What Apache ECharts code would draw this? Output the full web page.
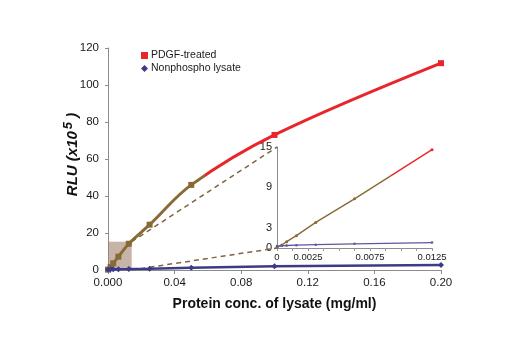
<!DOCTYPE html>
<html>
<head>
<meta charset="utf-8">
<script src="https://cdn.jsdelivr.net/npm/echarts@6/dist/echarts.min.js"></script>
<style>
  html, body { margin: 0; padding: 0; background: #fff; }
  #chart { width: 520px; height: 350px; }
</style>
</head>
<body>
<div id="chart"></div>
<script>
// main plot, protein conc. of lysate (mg/ml) vs RLU (x10^5)
var concMain = [0, 0.0015625, 0.003125, 0.00625, 0.0125, 0.025, 0.05, 0.1, 0.2];
var pdgfMain = [0.2, 1.6, 3.6, 7.2, 14.2, 24.5, 46, 73, 111.8];
var nonphosphoMain = [0.3, 0.35, 0.4, 0.45, 0.5, 0.7, 1.2, 2.0, 2.7];

// inset: low concentration range
var concInset = [0, 0.00039, 0.00078, 0.0015625, 0.003125, 0.00625, 0.0125];
var pdgfInset = [0.1, 0.45, 0.94, 1.83, 3.8, 7.3, 14.6];
var nonphosphoInset = [0.3, 0.33, 0.37, 0.42, 0.5, 0.62, 0.8];

// tick labels
var insetXLabels = [0, 0.0025, 0.0075, 0.0125];
var insetYLabels = [0, 3, 9, 15];

// shaded zoom box on main plot [x, y]
var zoomBox = [0.0142, 15.3];

var RED = '#e8252b';
var BROWN = '#8a6a34';
var NAVY = '#3d3b86';
var FONT = "'Liberation Sans', Arial, sans-serif";

function pairs(xs, ys) {
  return xs.map(function (x, i) { return [x, ys[i]]; });
}

function hasLabel(list, v) {
  return list.some(function (l) { return Math.abs(l - v) < 1e-9; });
}

var chart = echarts.init(document.getElementById('chart'), null, { renderer: 'canvas' });

var axisLine = { lineStyle: { color: '#8c8c8c', width: 1 } };
var labelStyle = { color: '#1a1a1a', fontFamily: FONT };

chart.setOption({
  animation: false,
  backgroundColor: '#fff',
  textStyle: { fontFamily: FONT },
  legend: {
    orient: 'vertical',
    left: 136,
    top: 45,
    itemWidth: 7,
    itemHeight: 7,
    itemGap: 2,
    textStyle: { fontSize: 10.5, color: '#1a1a1a', fontFamily: FONT, padding: [0, 0, 0, -2] },
    data: [
      { name: 'PDGF-treated', icon: 'rect', itemStyle: { color: RED } },
      { name: 'Nonphospho lysate', icon: 'diamond', itemStyle: { color: NAVY } }
    ]
  },
  grid: [
    { left: 108, right: 79, top: 48, bottom: 80 },
    { left: 277, top: 147, width: 155, height: 101 }
  ],
  xAxis: [
    {
      gridIndex: 0,
      type: 'value',
      min: 0,
      max: 0.2,
      interval: 0.04,
      splitLine: { show: false },
      axisLine: axisLine,
      axisTick: { length: 4, lineStyle: { color: '#8c8c8c' } },
      axisLabel: Object.assign({
        fontSize: 11.5,
        margin: 7,
        formatter: function (v) { return v === 0 ? '0.000' : v.toFixed(2); }
      }, labelStyle),
      name: 'Protein conc. of lysate (mg/ml)',
      nameLocation: 'middle',
      nameGap: 27,
      nameMoveOverlap: false,
      nameTextStyle: { fontSize: 14, fontWeight: 'bold', color: '#111', fontFamily: FONT }
    },
    {
      gridIndex: 1,
      type: 'value',
      min: 0,
      max: 0.0125,
      interval: 0.00125,
      splitLine: { show: false },
      axisLine: axisLine,
      axisTick: { length: 3, lineStyle: { color: '#9a9a9a' } },
      axisLabel: Object.assign({
        fontSize: 9.5,
        margin: 4,
        formatter: function (v) { return hasLabel(insetXLabels, v) ? String(+v.toFixed(4)) : ''; }
      }, labelStyle)
    }
  ],
  yAxis: [
    {
      gridIndex: 0,
      type: 'value',
      min: 0,
      max: 120,
      interval: 20,
      splitLine: { show: false },
      axisLine: Object.assign({ show: true }, axisLine),
      axisTick: { show: true, length: 3, lineStyle: { color: '#8c8c8c' } },
      axisLabel: Object.assign({ fontSize: 11.5, margin: 9 }, labelStyle),
      name: '{t|RLU (x10}{s|5}{t| )}',
      nameLocation: 'middle',
      nameGap: 25,
      nameMoveOverlap: false,
      nameTextStyle: {
        padding: [0, 0, 0, 9],
        rich: {
          t: { fontSize: 15, fontWeight: 'bold', fontStyle: 'italic', color: '#111', fontFamily: FONT },
          s: { fontSize: 13, fontWeight: 'bold', fontStyle: 'italic', color: '#111', fontFamily: FONT, padding: [0, 0, 8, 2] }
        }
      }
    },
    {
      gridIndex: 1,
      type: 'value',
      min: 0,
      max: 15,
      interval: 3,
      splitLine: { show: false },
      axisLine: Object.assign({ show: true }, axisLine),
      axisTick: { show: false },
      axisLabel: Object.assign({
        fontSize: 11,
        margin: 5,
        formatter: function (v) { return hasLabel(insetYLabels, v) ? String(v) : ''; }
      }, labelStyle)
    }
  ],
  visualMap: [
    {
      show: false,
      type: 'piecewise',
      seriesIndex: 0,
      dimension: 0,
      pieces: [
        { gte: -1, lt: 0.058, color: BROWN },
        { gte: 0.058, lte: 1, color: RED }
      ]
    },
    {
      show: false,
      type: 'piecewise',
      seriesIndex: 2,
      dimension: 0,
      pieces: [
        { gte: -1, lt: 0.0092, color: BROWN },
        { gte: 0.0092, lte: 1, color: RED }
      ]
    }
  ],
  series: [
    {
      name: 'PDGF-treated',
      type: 'line',
      xAxisIndex: 0,
      yAxisIndex: 0,
      smooth: 0.35,
      symbol: 'rect',
      symbolSize: 6,
      lineStyle: { width: 3 },
      itemStyle: { color: RED },
      data: pairs(concMain, pdgfMain),
      z: 4
    },
    {
      name: 'Nonphospho lysate',
      type: 'line',
      xAxisIndex: 0,
      yAxisIndex: 0,
      symbol: 'diamond',
      symbolSize: 6,
      lineStyle: { width: 2.5, color: NAVY },
      itemStyle: { color: NAVY },
      data: pairs(concMain, nonphosphoMain),
      z: 4,
      markArea: {
        silent: true,
        itemStyle: { color: 'rgba(160, 130, 110, 0.6)' },
        data: [[{ coord: [0, 0] }, { coord: zoomBox }]]
      }
    },
    {
      name: 'PDGF-treated',
      type: 'line',
      xAxisIndex: 1,
      yAxisIndex: 1,
      symbol: 'circle',
      symbolSize: 3,
      lineStyle: { width: 1.4 },
      itemStyle: { color: RED },
      data: pairs(concInset, pdgfInset)
    },
    {
      name: 'Nonphospho lysate',
      type: 'line',
      xAxisIndex: 1,
      yAxisIndex: 1,
      symbol: 'circle',
      symbolSize: 2.5,
      lineStyle: { width: 1.3, color: '#5a58a0' },
      itemStyle: { color: '#5a58a0' },
      data: pairs(concInset, nonphosphoInset)
    },
    {
      id: 'connTop',
      type: 'line',
      xAxisIndex: 0,
      yAxisIndex: 0,
      symbol: 'none',
      silent: true,
      lineStyle: { width: 1.5, type: [5, 4], color: '#7d6541' },
      data: [],
      z: 2
    },
    {
      id: 'connBottom',
      type: 'line',
      xAxisIndex: 0,
      yAxisIndex: 0,
      symbol: 'none',
      silent: true,
      lineStyle: { width: 1.5, type: [5, 4], color: '#7d6541' },
      data: [],
      z: 2
    }
  ]
});

// connector lines from the shaded box to the inset's corners
var insetTop = chart.convertFromPixel({ gridIndex: 0 }, chart.convertToPixel({ gridIndex: 1 }, [0, 15]));
var insetBottom = chart.convertFromPixel({ gridIndex: 0 }, chart.convertToPixel({ gridIndex: 1 }, [0, 0]));

chart.setOption({
  series: [
    { id: 'connTop', data: [[zoomBox[0], zoomBox[1]], insetTop] },
    { id: 'connBottom', data: [[zoomBox[0], 0], insetBottom] }
  ]
});
</script>
</body>
</html>
